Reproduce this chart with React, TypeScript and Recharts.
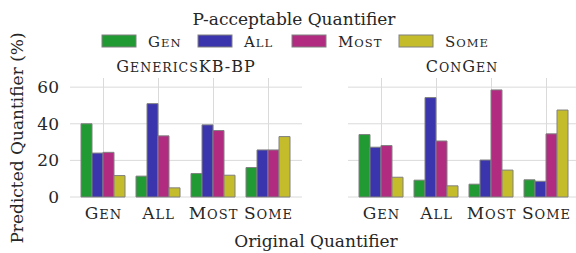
import React from 'react';
import { BarChart, Bar, XAxis, YAxis } from 'recharts';

const categories = ['Gen', 'All', 'Most', 'Some'];

// GenericsKB-BP panel: predicted quantifier share per original quantifier
const kbGen = [40.0, 11.4, 12.8, 16.1];
const kbAll = [24.0, 51.0, 39.4, 25.7];
const kbMost = [24.4, 33.4, 36.3, 25.7];
const kbSome = [11.7, 5.0, 11.9, 33.0];

// ConGen panel
const cgGen = [34.1, 9.2, 7.0, 9.4];
const cgAll = [27.2, 54.3, 20.2, 8.6];
const cgMost = [28.1, 30.6, 58.5, 34.5];
const cgSome = [10.8, 6.1, 14.7, 47.5];

const yTicks = [0, 20, 40, 60];
const Y_MAX = 65;

const series = [
  { key: 'gen', label: 'Gen', color: '#229a34' },
  { key: 'all', label: 'All', color: '#3a34ad' },
  { key: 'most', label: 'Most', color: '#b12c80' },
  { key: 'some', label: 'Some', color: '#c5bc2b' },
];

const FONT = '"DejaVu Serif", serif';
const TEXT = '#262626';
const EDGE = '#808080';
const GRID = '#dadada';

// plot areas of the two panels (margins below are set to land on these)
const PLOT_TOP = 78;
const PLOT_H = 119;
const panels = [
  { left: 0, width: 302, plotX: 70, plotW: 232, padL: 6, padR: 6 },
  { left: 348, width: 228, plotX: 348, plotW: 228, padL: 6, padR: 2 },
];

const buildRows = (g: number[], a: number[], m: number[], s: number[]) =>
  categories.map((name, i) => ({ name, gen: g[i], all: a[i], most: m[i], some: s[i] }));

const kbRows = buildRows(kbGen, kbAll, kbMost, kbSome);
const cgRows = buildRows(cgGen, cgAll, cgMost, cgSome);

// fake small caps: capitals at full size, lower case letters as smaller capitals
const smallCaps = (text: string, big: number, small: number) => {
  const runs: { lower: boolean; s: string }[] = [];
  for (const ch of text) {
    const lower = ch !== ch.toUpperCase();
    const last = runs[runs.length - 1];
    if (last && last.lower === lower) last.s += ch;
    else runs.push({ lower, s: ch });
  }
  return runs.map((r, i) => (
    <tspan key={i} fontSize={r.lower ? small : big}>
      {r.lower ? r.s.toUpperCase() : r.s}
    </tspan>
  ));
};

const CategoryTick = (props: any) => {
  const { x, y, payload } = props;
  return (
    <text x={x} y={y} dy={22} textAnchor="middle" fill={TEXT} fontFamily={FONT} letterSpacing={1}>
      {smallCaps(payload.value, 17, 13)}
    </text>
  );
};

// whitegrid-style lines behind the bars: at the y ticks and the category centres
const GridUnderlay = () => (
  <svg width={576} height={253} style={{ position: 'absolute', left: 0, top: 0 }}>
    {panels.map((p, pi) => {
      const band = (p.plotW - p.padL - p.padR) / categories.length;
      return (
        <g key={pi} stroke={GRID} strokeWidth={1}>
          {yTicks.map((v) => {
            const y = PLOT_TOP + PLOT_H * (1 - v / Y_MAX);
            return <line key={'h' + v} x1={p.plotX} x2={p.plotX + p.plotW} y1={y} y2={y} />;
          })}
          {categories.map((c, i) => {
            const x = p.plotX + p.padL + band * (i + 0.5);
            return <line key={'v' + c} x1={x} x2={x} y1={PLOT_TOP} y2={PLOT_TOP + PLOT_H} />;
          })}
        </g>
      );
    })}
  </svg>
);

const Panel = ({ rows, showY, idx }: { rows: any[]; showY: boolean; idx: number }) => {
  const p = panels[idx];
  return (
    <BarChart
      width={p.width}
      height={253}
      data={rows}
      margin={{ top: PLOT_TOP, right: 0, left: showY ? 10 : 0, bottom: 26 }}
      barCategoryGap={5}
      barGap={0}
    >
      <XAxis
        dataKey="name"
        height={30}
        axisLine={false}
        tickLine={false}
        tickSize={0}
        tickMargin={0}
        interval={0}
        padding={{ left: p.padL, right: p.padR }}
        tick={<CategoryTick />}
      />
      <YAxis
        hide={!showY}
        width={showY ? 60 : 0}
        domain={[0, Y_MAX]}
        ticks={yTicks}
        axisLine={false}
        tickLine={false}
        tickSize={0}
        tickMargin={11}
        tick={{ fontSize: 17, fill: TEXT, fontFamily: FONT }}
      />
      {series.map((s) => (
        <Bar key={s.key} dataKey={s.key} fill={s.color} stroke={EDGE} strokeWidth={1} isAnimationActive={false} />
      ))}
    </BarChart>
  );
};

const legendX = [102, 198, 292, 399];

const Overlay = () => (
  <svg width={576} height={253} style={{ position: 'absolute', left: 0, top: 0, pointerEvents: 'none' }}>
    <text x={294} y={25} textAnchor="middle" fontSize={17} fill={TEXT} fontFamily={FONT}>
      P-acceptable Quantifier
    </text>
    {series.map((s, i) => (
      <g key={s.key}>
        <rect x={legendX[i]} y={35} width={34} height={12} fill={s.color} stroke={EDGE} strokeWidth={1} />
        <text x={legendX[i] + 46} y={47} fill={TEXT} fontFamily={FONT} letterSpacing={1}>
          {smallCaps(s.label, 15, 11.5)}
        </text>
      </g>
    ))}
    <text x={186} y={72} textAnchor="middle" fill={TEXT} fontFamily={FONT} letterSpacing={1}>
      {smallCaps('GenericsKB-BP', 16, 12.5)}
    </text>
    <text x={462} y={72} textAnchor="middle" fill={TEXT} fontFamily={FONT} letterSpacing={1}>
      {smallCaps('ConGen', 16, 12.5)}
    </text>
    <text x={316} y={247} textAnchor="middle" fontSize={17} fill={TEXT} fontFamily={FONT}>
      Original Quantifier
    </text>
    <text
      x={0}
      y={0}
      transform="translate(23 138) rotate(-90)"
      textAnchor="middle"
      fontSize={17}
      fill={TEXT}
      fontFamily={FONT}
    >
      Predicted Quantifier (%)
    </text>
  </svg>
);

export default function App() {
  return (
    <div style={{ position: 'absolute', left: 0, top: 0, width: 576, height: 253, background: '#fff', overflow: 'hidden' }}>
      <GridUnderlay />
      <div style={{ position: 'absolute', left: panels[0].left, top: 0 }}>
        <Panel rows={kbRows} showY idx={0} />
      </div>
      <div style={{ position: 'absolute', left: panels[1].left, top: 0 }}>
        <Panel rows={cgRows} showY={false} idx={1} />
      </div>
      <Overlay />
    </div>
  );
}
